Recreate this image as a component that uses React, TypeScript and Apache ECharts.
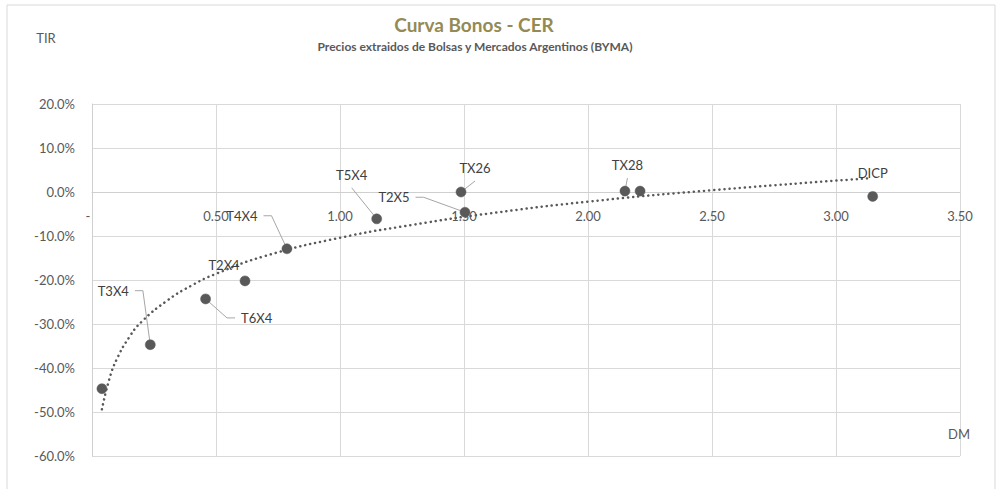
import React, { useEffect, useRef } from "react";
import * as echarts from "echarts";

// ---- Data ----
const bondNames = ["", "T3X4", "T6X4", "T2X4", "T4X4", "T5X4", "TX26", "T2X5", "TX28", "", "DICP"];
const bondDM = [0.04, 0.235, 0.458, 0.617, 0.786, 1.148, 1.488, 1.504, 2.149, 2.21, 3.148];
const bondTIR = [-44.7, -34.7, -24.3, -20.2, -12.9, -6.1, 0.0, -4.6, 0.2, 0.2, -1.0];

// Dotted trend line (log trend shown in the picture)
const trendDM = [0.04, 0.07, 0.1, 0.15, 0.2, 0.3, 0.4, 0.5, 0.7, 1.0, 1.3, 1.6, 2.0, 2.5, 3.13];
const trendTIR = [-49.4, -42.5, -38.0, -33.0, -29.5, -24.8, -21.3, -18.6, -14.5, -10.4, -7.4, -4.9, -2.2, 0.4, 3.1];

const titleText = "Curva Bonos - CER";
const subtitleText = "Precios extraidos de Bolsas y Mercados Argentinos (BYMA)";
const yAxisName = "TIR";
const xAxisName = "DM";

// ---- Label placement (layout, kept apart from data) ----
const labelDx = [0, -37, 51, -21, -45, -25, 14, -71, 2.5, 0, 0];
const labelDy = [0, -54, 19, -16, -33, -44, -24, -15, -26, 0, -23];
const leaderKind = ["none", "right", "left", "none", "right", "bottom", "bottom", "right", "bottom", "none", "none"];

const FONT = "Lato, 'Open Sans', sans-serif";

export default function App() {
  const ref = useRef<HTMLDivElement>(null);

  useEffect(() => {
    document.body.style.margin = "0";
    if (!ref.current) return;
    const chart = echarts.init(ref.current, undefined, { renderer: "svg" });

    const option: any = {
      animation: false,
      backgroundColor: "#ffffff",
      textStyle: { fontFamily: FONT },
      grid: { left: 92, right: 41, top: 104, bottom: 33, containLabel: false },
      xAxis: {
        type: "value",
        min: 0,
        max: 3.5,
        interval: 0.5,
        offset: 0,
        axisLine: { show: true, onZero: false, lineStyle: { color: "#cfcfcf", width: 1 } },
        axisTick: { show: false },
        axisLabel: {
          color: "#595959",
          fontSize: 13,
          fontFamily: FONT,
          margin: 17,
          formatter: (v: number) => (v === 0 ? "{z|-}" : v.toFixed(2)),
          rich: {
            z: { color: "#595959", fontSize: 13, fontFamily: FONT, padding: [0, 8, 0, 0] },
          },
        },
        splitLine: { show: true, lineStyle: { color: "#d9d9d9", width: 1 } },
      },
      yAxis: {
        type: "value",
        min: -60,
        max: 20,
        interval: 10,
        axisLine: { show: true, onZero: false, lineStyle: { color: "#cfcfcf", width: 1 } },
        axisTick: { show: false },
        axisLabel: {
          color: "#595959",
          fontSize: 13,
          fontFamily: FONT,
          margin: 17,
          formatter: (v: number) => v.toFixed(1) + "%",
        },
        splitLine: { show: true, lineStyle: { color: "#d9d9d9", width: 1 } },
      },
      series: [
        {
          type: "line",
          data: trendDM.map((x, i) => [x, trendTIR[i]]),
          smooth: true,
          showSymbol: false,
          symbol: "none",
          z: 2,
          lineStyle: { color: "#595959", width: 2.5, type: [0.1, 5], cap: "round" },
          silent: true,
        },
        {
          type: "scatter",
          data: bondDM.map((x, i) => [x, bondTIR[i]]),
          symbol: "circle",
          symbolSize: 10,
          z: 4,
          itemStyle: { color: "#595959", borderColor: "#595959", borderWidth: 0.5, opacity: 1 },
          label: {
            show: true,
            position: "inside",
            color: "#404040",
            fontSize: 13,
            fontFamily: FONT,
            formatter: (p: any) => bondNames[p.dataIndex],
          },
          labelLayout: (p: any) => ({ dx: labelDx[p.dataIndex], dy: labelDy[p.dataIndex] }),
        },
      ],
    };
    chart.setOption(option);

    // Move the horizontal axis to the y = 0 line (Excel: axis crosses at 0)
    const zeroPx = chart.convertToPixel({ yAxisIndex: 0 }, 0) as number;
    const bottomPx = chart.convertToPixel({ yAxisIndex: 0 }, -60) as number;
    const axisShift = -(bottomPx - zeroPx);

    // text width measurement for leader line anchors
    const cv = document.createElement("canvas");
    const ctx = cv.getContext("2d");
    const measure = (t: string) => {
      if (!ctx) return t.length * 8;
      ctx.font = "13px Lato";
      return ctx.measureText(t).width;
    };

    const leaders: any[] = [];
    bondDM.forEach((x, i) => {
      const kind = leaderKind[i];
      if (kind === "none") return;
      const p = chart.convertToPixel({ xAxisIndex: 0, yAxisIndex: 0 }, [x, bondTIR[i]]) as number[];
      const cx = p[0] + labelDx[i];
      const cy = p[1] + labelDy[i];
      const hw = measure(bondNames[i]) / 2;
      let pts: number[][] = [];
      if (kind === "right") {
        const sx = cx + hw + 6;
        pts = [[sx, cy], [sx + 8, cy], [p[0], p[1]]];
      } else if (kind === "left") {
        const sx = cx - hw - 6;
        pts = [[sx, cy], [sx - 8, cy], [p[0], p[1]]];
      } else {
        pts = [[cx, cy + 13], [p[0], p[1]]];
      }
      leaders.push({
        type: "polyline",
        shape: { points: pts },
        style: { stroke: "#a6a6a6", lineWidth: 1, fill: "none" },
        z: 3,
        silent: true,
      });
    });

    chart.setOption({
      xAxis: { offset: axisShift },
      graphic: [
        {
          type: "rect",
          shape: { x: 7, y: 5, width: 988, height: 500 },
          style: { fill: "none", stroke: "#d9d9d9", lineWidth: 1 },
          z: 0,
          silent: true,
        },
        {
          type: "text",
          x: 474,
          y: 24.5,
          style: {
            text: titleText,
            fill: "#948A54",
            font: `bold 19px ${FONT}`,
            align: "center",
            verticalAlign: "middle",
          },
        },
        {
          type: "text",
          x: 475,
          y: 46,
          style: {
            text: subtitleText,
            fill: "#595959",
            font: `bold 12px ${FONT}`,
            align: "center",
            verticalAlign: "middle",
          },
        },
        {
          type: "text",
          x: 46,
          y: 38,
          style: {
            text: yAxisName,
            fill: "#595959",
            font: `13px ${FONT}`,
            align: "center",
            verticalAlign: "middle",
          },
        },
        {
          type: "text",
          x: 959,
          y: 434,
          style: {
            text: xAxisName,
            fill: "#595959",
            font: `13px ${FONT}`,
            align: "center",
            verticalAlign: "middle",
          },
        },
        ...leaders,
      ],
    });

    return () => {
      chart.dispose();
    };
  }, []);

  return <div ref={ref} style={{ width: "1001px", height: "489px" }} />;
}
